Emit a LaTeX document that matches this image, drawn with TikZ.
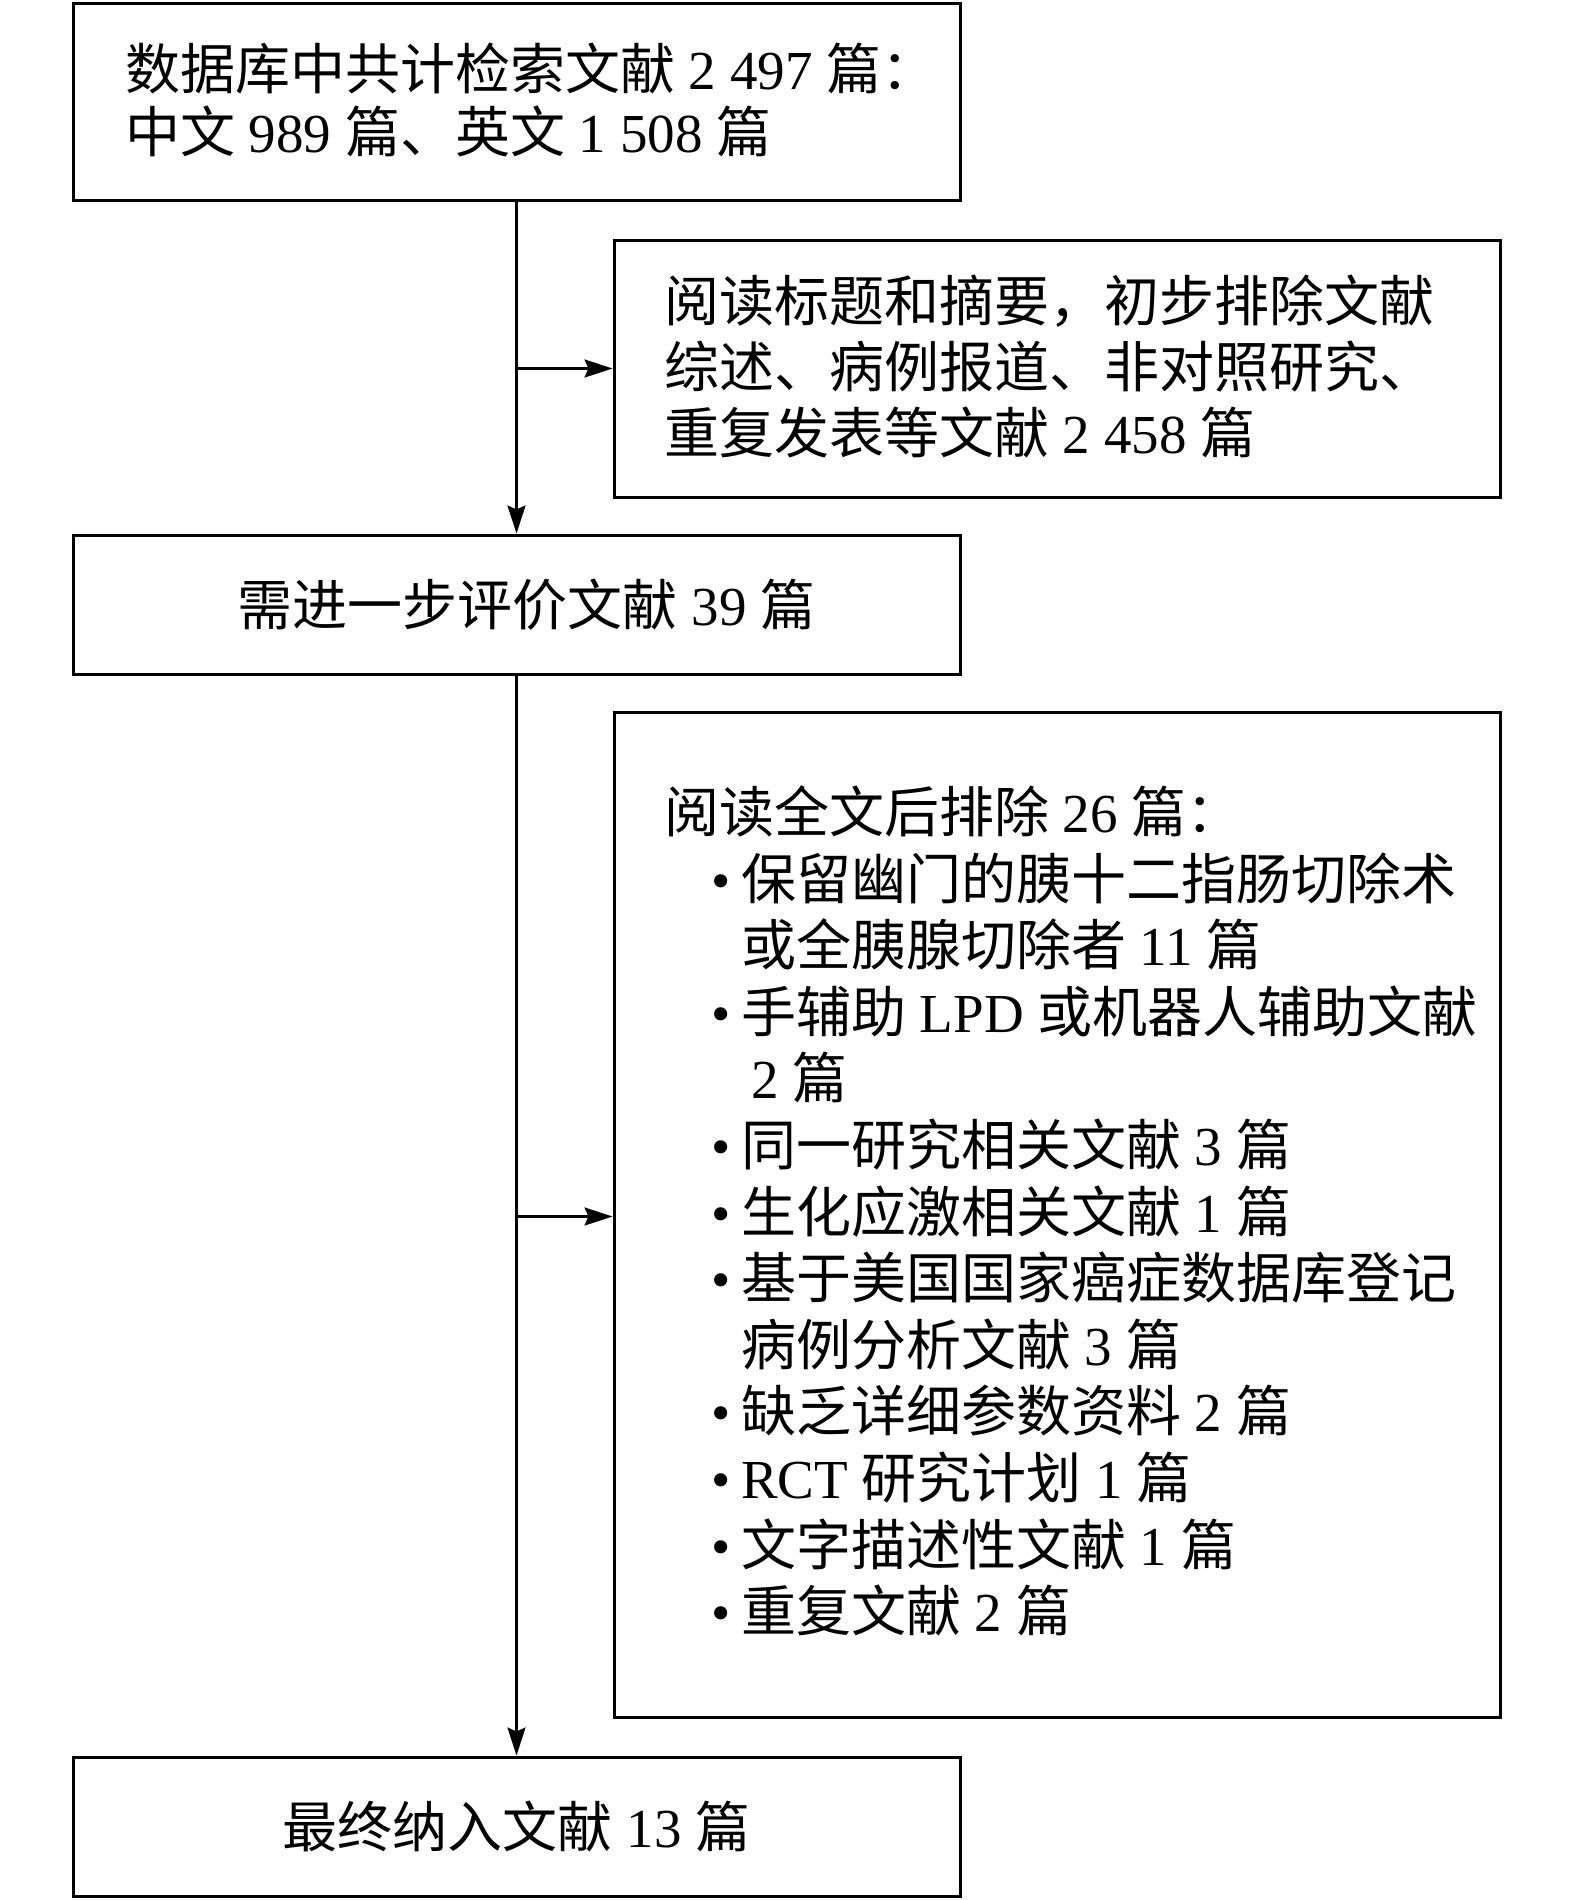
\documentclass[tikz,border=0pt]{standalone}
\usepackage{fontspec}
\setmainfont{Liberation Serif}
\newfontfamily\cjk{Noto Sans CJK SC}
\usetikzlibrary{arrows.meta,calc}
\newcommand\nm[1]{{\rmfamily #1}}
\newcommand\bul{\hspace*{47pt}\makebox[30pt][l]{\nm{•}}}
\newcommand\ind{\hspace*{77pt}}
\begin{document}
\begin{tikzpicture}[x=1pt,y=1pt,
  box/.style={draw,line width=3pt,rectangle,inner sep=0pt},
  txt/.style={inner sep=0pt,align=left,font=\cjk\fontsize{55}{66.6}\selectfont},
  conn/.style={line width=2.4pt,-{Stealth[length=28pt,width=18pt,inset=4pt]}},
  plain/.style={line width=2.4pt}]
\useasboundingbox (0,0) rectangle (1575,-1900);
% boxes
\node[box,minimum width=887pt,minimum height=196pt] (b1) at (516.5,-102) {};
\node[box,minimum width=886pt,minimum height=257pt] (b2) at (1057,-368.5) {};
\node[box,minimum width=887pt,minimum height=139pt] (b3) at (516.5,-604.5) {};
\node[box,minimum width=886pt,minimum height=1005pt] (b4) at (1057,-1214.5) {};
\node[box,minimum width=887pt,minimum height=139pt] (b5) at (516.5,-1826.5) {};
% texts
\node[txt,anchor=west,font=\cjk\fontsize{55}{63}\selectfont] (t1) at (125,-100) {数据库中共计检索文献\nm{ 2 497 }篇：\\中文\nm{ 989 }篇、英文\nm{ 1 508 }篇};
\node[txt,anchor=west,font=\cjk\fontsize{55}{66}\selectfont] (t2) at (664,-366) {阅读标题和摘要，初步排除文献\\综述、病例报道、非对照研究、\\重复发表等文献\nm{ 2 458 }篇};
\node[txt] (t3) at ($(b3.center)+(10,0)$) {需进一步评价文献\nm{ 39 }篇};
\node[txt,anchor=west] (t4) at (664,-1211) {阅读全文后排除\nm{ 26 }篇：\\
\bul 保留幽门的胰十二指肠切除术\\
\ind 或全胰腺切除者\nm{ 11 }篇\\
\bul 手辅助\nm{ LPD }或机器人辅助文献\\
\hspace*{87pt}\nm{2 }篇\\
\bul 同一研究相关文献\nm{ 3 }篇\\
\bul 生化应激相关文献\nm{ 1 }篇\\
\bul 基于美国国家癌症数据库登记\\
\ind 病例分析文献\nm{ 3 }篇\\
\bul 缺乏详细参数资料\nm{ 2 }篇\\
\bul\nm{RCT }研究计划\nm{ 1 }篇\\
\bul 文字描述性文献\nm{ 1 }篇\\
\bul 重复文献\nm{ 2 }篇};
\node[txt] (t5) at (b5.center) {最终纳入文献\nm{ 13 }篇};
% connectors
\coordinate (j1) at ($(b1.south)+(0,-167)$);
\coordinate (j2) at ($(b3.south)+(0,-541)$);
\draw[conn] (b1.south) -- (b3.north);
\draw[conn] (j1) -- (j1 -| b2.west);
\draw[conn] (b3.south) -- (b5.north);
\draw[conn] (j2) -- (j2 -| b4.west);
\end{tikzpicture}
\end{document}
